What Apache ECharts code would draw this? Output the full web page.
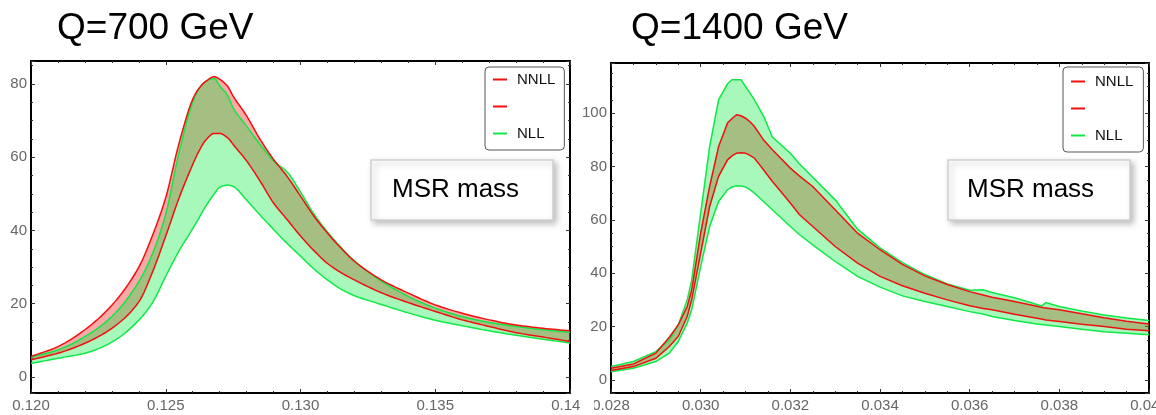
<!DOCTYPE html>
<html lang="en">
<head>
<meta charset="UTF-8">
<title>MSR mass</title>
<style>
    html, body { margin: 0; padding: 0; background: #fff; }
    #main { width: 1156px; height: 415px; }
</style>
</head>
<body>
<div id="main"></div>
<script src="https://cdn.jsdelivr.net/npm/echarts@6/dist/echarts.min.js"></script>
<script>
// Q = 700 GeV
var x700 = [0.120, 0.121, 0.122, 0.123, 0.124, 0.1245, 0.125, 0.1255, 0.126, 0.1262, 0.1265, 0.1268, 0.127, 0.1273, 0.1275,
    0.128, 0.1285, 0.129, 0.1295, 0.130, 0.1305, 0.131, 0.1315, 0.132, 0.133, 0.134, 0.135, 0.136, 0.137, 0.138, 0.139, 0.140];
var nnllHi700 = [5.6, 8.3, 12.9, 19.6, 30.0, 38.5, 49.0, 64.0, 75.8, 78.5, 80.8, 82.0, 81.3, 79.3, 76.7,
    71.3, 64.9, 59.4, 54.8, 49.4, 43.9, 39.3, 35.2, 31.6, 26.5, 22.9, 19.7, 17.4, 15.6, 14.2, 13.3, 12.6];
var nnllLo700 = [4.7, 6.5, 9.2, 13.3, 20.5, 28.5, 38.5, 49.0, 58.0, 61.2, 64.8, 66.5, 66.5, 65.3, 63.5,
    59.0, 53.5, 47.5, 43.0, 38.5, 34.5, 31.0, 28.5, 26.5, 23.0, 20.3, 17.9, 15.6, 13.8, 12.1, 10.9, 9.7];
var nllHi700 = [5.4, 7.4, 11.0, 16.5, 26.0, 33.5, 44.5, 61.5, 75.0, 78.3, 80.8, 81.5, 79.5, 76.8, 73.5,
    68.5, 63.5, 59.0, 56.0, 50.5, 44.5, 39.6, 35.4, 31.7, 26.2, 22.0, 18.8, 16.5, 14.9, 13.8, 12.9, 12.2];
var nllLo700 = [3.7, 5.1, 6.5, 9.5, 15.5, 20.2, 27.5, 34.5, 40.5, 43.0, 46.8, 50.0, 51.8, 52.4, 52.0,
    48.3, 44.2, 40.3, 36.5, 33.0, 29.5, 26.5, 24.0, 22.2, 19.8, 17.5, 15.5, 14.0, 12.6, 11.4, 10.3, 9.3];

// Q = 1400 GeV
var x1400 = [0.028, 0.0285, 0.029, 0.0293, 0.0295, 0.0297, 0.0298, 0.030, 0.0302, 0.0304, 0.0306, 0.0307, 0.0308, 0.0309,
    0.031, 0.0311, 0.0312, 0.0313, 0.0314, 0.0316, 0.032, 0.0322, 0.0325, 0.033, 0.0335, 0.034, 0.0345, 0.035, 0.0355,
    0.036, 0.0363, 0.0365, 0.037, 0.0375, 0.0376, 0.0377, 0.038, 0.0385, 0.039, 0.0395, 0.040];
var nllHi1400 = [5.0, 6.9, 10.6, 15.0, 20.6, 30.0, 37.5, 62.5, 87.5, 105.0, 111.0, 112.5, 112.5, 112.5,
    110.0, 107.5, 105.0, 102.0, 99.0, 91.0, 85.0, 81.0, 76.0, 67.5, 56.5, 49.5, 44.0, 39.5, 36.0,
    33.6, 33.8, 32.8, 30.8, 28.3, 27.7, 29.0, 27.5, 25.8, 24.3, 23.2, 22.3];
var nnllHi1400 = [4.4, 6.0, 10.0, 16.0, 20.6, 27.5, 33.8, 55.0, 72.5, 87.5, 96.3, 98.0, 99.4, 99.0,
    98.1, 96.8, 95.0, 92.5, 90.0, 86.3, 79.4, 76.5, 72.5, 63.8, 55.0, 48.8, 43.3, 39.0, 35.8,
    33.1, 31.8, 31.0, 29.4, 27.6, 27.2, 27.0, 26.3, 24.8, 23.3, 22.0, 21.0];
var nnllLo1400 = [3.5, 5.0, 8.1, 12.5, 16.3, 23.8, 30.0, 47.5, 65.0, 76.3, 82.5, 84.0, 85.0, 85.2,
    85.0, 84.2, 83.1, 81.0, 78.8, 74.4, 66.3, 62.0, 57.5, 50.0, 43.8, 38.8, 35.3, 32.5, 30.0,
    27.8, 26.8, 26.3, 24.6, 23.1, 22.8, 22.5, 21.9, 20.9, 20.0, 19.0, 18.4];
var nllLo1400 = [3.1, 4.4, 6.9, 10.0, 14.4, 21.3, 26.3, 42.5, 57.5, 66.9, 71.3, 72.3, 72.8, 72.7,
    72.3, 71.3, 70.0, 68.5, 66.9, 63.8, 57.5, 54.5, 50.6, 44.4, 38.8, 34.8, 31.5, 29.4, 27.5,
    25.6, 24.7, 23.8, 22.3, 21.0, 20.8, 20.6, 20.0, 19.0, 18.1, 17.5, 16.9];

var legendNames = ['NNLL', ' ', 'NLL'];

var RED = '#f01010';
var GREEN = '#10e848';
var PINK = 'rgba(240,0,0,0.34)';
var LIGHTGREEN = 'rgba(0,235,60,0.34)';
var FONT = '"Liberation Sans", Arial, sans-serif';

function pairs(xs, ys) {
    return xs.map(function (x, i) { return [x, ys[i]]; });
}

// monotone cubic (pchip) through pixel points, x increasing
function pchip(pts, steps) {
    var n = pts.length, h = [], d = [], m = [], out = [];
    for (var i = 0; i < n - 1; i++) {
        h[i] = pts[i + 1][0] - pts[i][0];
        d[i] = (pts[i + 1][1] - pts[i][1]) / h[i];
    }
    m[0] = d[0];
    m[n - 1] = d[n - 2];
    for (i = 1; i < n - 1; i++) {
        if (d[i - 1] * d[i] <= 0) {
            m[i] = 0;
        } else {
            var w1 = 2 * h[i] + h[i - 1], w2 = h[i] + 2 * h[i - 1];
            m[i] = (w1 + w2) / (w1 / d[i - 1] + w2 / d[i]);
        }
    }
    for (i = 0; i < n - 1; i++) {
        for (var s = 0; s < steps; s++) {
            var t = s / steps, t2 = t * t, t3 = t2 * t;
            out.push([
                pts[i][0] + t * h[i],
                (2 * t3 - 3 * t2 + 1) * pts[i][1] + (t3 - 2 * t2 + t) * h[i] * m[i] +
                (-2 * t3 + 3 * t2) * pts[i + 1][1] + (t3 - t2) * h[i] * m[i + 1]
            ]);
        }
    }
    out.push(pts[n - 1]);
    return out;
}

function toPixels(api, xs, ys, smooth) {
    var pts = xs.map(function (x, i) { return api.coord([x, ys[i]]); });
    return smooth ? pchip(pts, 8) : pts;
}

// filled band between lo and hi
function band(xs, lo, hi, fill, axis, smooth) {
    return {
        type: 'custom', xAxisIndex: axis, yAxisIndex: axis, silent: true,
        data: xs.map(function (x, i) { return [x, lo[i], hi[i]]; }),
        encode: { x: 0, y: [1, 2] },
        renderItem: function (params, api) {
            if (params.dataIndex !== 0) return null;
            var top = toPixels(api, xs, hi, smooth);
            var bottom = toPixels(api, xs, lo, smooth).reverse();
            return { type: 'polygon', shape: { points: top.concat(bottom) }, style: { fill: fill } };
        }
    };
}

function curve(name, xs, ys, color, axis, smooth) {
    return {
        name: name, type: 'custom', xAxisIndex: axis, yAxisIndex: axis, silent: true,
        itemStyle: { color: color },
        data: pairs(xs, ys), encode: { x: 0, y: 1 },
        renderItem: function (params, api) {
            if (params.dataIndex !== 0) return null;
            return {
                type: 'polyline', shape: { points: toPixels(api, xs, ys, smooth) },
                style: { stroke: color, lineWidth: 1.5, fill: 'none' }
            };
        }
    };
}

function xAx(grid, pos, min, max, interval, minor, show) {
    return {
        type: 'value', gridIndex: grid, position: pos, min: min, max: max, interval: interval,
        axisLine: { show: true, onZero: false, lineStyle: { color: '#000', width: 2 } },
        axisTick: { show: true, inside: true, length: 4, lineStyle: { color: '#333' } },
        minorTick: { show: true, splitNumber: minor, length: 2, lineStyle: { color: '#333' } },
        splitLine: { show: false },
        axisLabel: {
            show: show, color: '#666', fontSize: 15, fontFamily: FONT, margin: 5,
            formatter: function (v) { return v.toFixed(3); }
        }
    };
}

function yAx(grid, pos, min, max, show) {
    return {
        type: 'value', gridIndex: grid, position: pos, min: min, max: max, splitNumber: 5,
        axisLine: { show: true, onZero: false, lineStyle: { color: '#000', width: 2 } },
        axisTick: { show: true, inside: true, length: 4, lineStyle: { color: '#333' } },
        minorTick: { show: true, splitNumber: 4, length: 2, lineStyle: { color: '#333' } },
        splitLine: { show: false },
        axisLabel: {
            show: show, color: '#666', fontSize: 15, fontFamily: FONT, margin: 4,
            showMinLabel: false, showMaxLabel: false
        }
    };
}

function legendBox(left, pad) {
    return {
        left: left, top: 67, orient: 'vertical', data: legendNames,
        icon: 'rect', itemWidth: 14, itemHeight: 2, itemGap: 12,
        padding: pad, borderColor: '#555', borderWidth: 1, borderRadius: 4,
        backgroundColor: '#fff', selectedMode: false,
        textStyle: { fontSize: 15, color: '#111', fontFamily: FONT, padding: [0, 0, 0, 5] }
    };
}

function msrBox(x, textX) {
    return {
        type: 'group', z: 50,
        children: [
            {
                type: 'rect', shape: { x: x, y: 160, width: 182, height: 60 },
                style: { fill: '#fff', stroke: '#cfcfcf', lineWidth: 1.5,
                    shadowBlur: 6, shadowOffsetX: 3, shadowOffsetY: 3, shadowColor: 'rgba(0,0,0,0.25)' }
            },
            {
                type: 'text', x: textX, y: 190,
                style: { text: 'MSR mass', fill: '#000', font: '26px ' + FONT, verticalAlign: 'middle' }
            }
        ]
    };
}

var chart = echarts.init(document.getElementById('main'));

var series = [
    band(x700, nnllLo700, nnllHi700, PINK, 0, true),
    band(x700, nllLo700, nllHi700, LIGHTGREEN, 0, true),
    curve('NLL', x700, nllLo700, GREEN, 0, true),
    curve('NLL', x700, nllHi700, GREEN, 0, true),
    curve('NNLL', x700, nnllHi700, RED, 0, true),
    curve(' ', x700, nnllLo700, RED, 0, true),
    band(x1400, nnllLo1400, nnllHi1400, PINK, 2, false),
    band(x1400, nllLo1400, nllHi1400, LIGHTGREEN, 2, false),
    curve('NLL', x1400, nllLo1400, GREEN, 2, false),
    curve('NLL', x1400, nllHi1400, GREEN, 2, false),
    curve('NNLL', x1400, nnllHi1400, RED, 2, false),
    curve(' ', x1400, nnllLo1400, RED, 2, false)
];

var option = {
    backgroundColor: '#fff',
    animation: false,
    grid: [
        { left: 31, top: 61, width: 539, height: 332, outerBoundsMode: 'none', containLabel: false },
        { left: 611, top: 63, width: 538, height: 330, outerBoundsMode: 'none', containLabel: false }
    ],
    xAxis: [
        xAx(0, 'bottom', 0.12, 0.14, 0.005, 5, true),
        xAx(0, 'top', 0.12, 0.14, 0.005, 5, false),
        xAx(1, 'bottom', 0.028, 0.040, 0.002, 4, true),
        xAx(1, 'top', 0.028, 0.040, 0.002, 4, false)
    ],
    yAxis: [
        yAx(0, 'left', -4.37, 86.28, true),
        yAx(0, 'right', -4.37, 86.28, false),
        yAx(1, 'left', -4.9, 118.8, true),
        yAx(1, 'right', -4.9, 118.8, false)
    ],
    legend: [
        legendBox(485, [5, 9, 9, 8]),
        legendBox(1063, [7, 10, 9, 8])
    ],
    series: series,
    graphic: [
        { type: 'text', x: 57, y: 29, z: 50,
          style: { text: 'Q=700 GeV', fill: '#000', font: '37px ' + FONT, verticalAlign: 'middle' } },
        { type: 'text', x: 631, y: 29, z: 50,
          style: { text: 'Q=1400 GeV', fill: '#000', font: '37px ' + FONT, verticalAlign: 'middle' } },
        msrBox(371, 392),
        msrBox(948, 967),
        // the right panel hides the tail of the last left tick label
        { type: 'rect', z: 100, shape: { x: 580, y: 396, width: 14, height: 19 }, style: { fill: '#fff' } }
    ]
};

chart.setOption(option);
</script>
</body>
</html>
